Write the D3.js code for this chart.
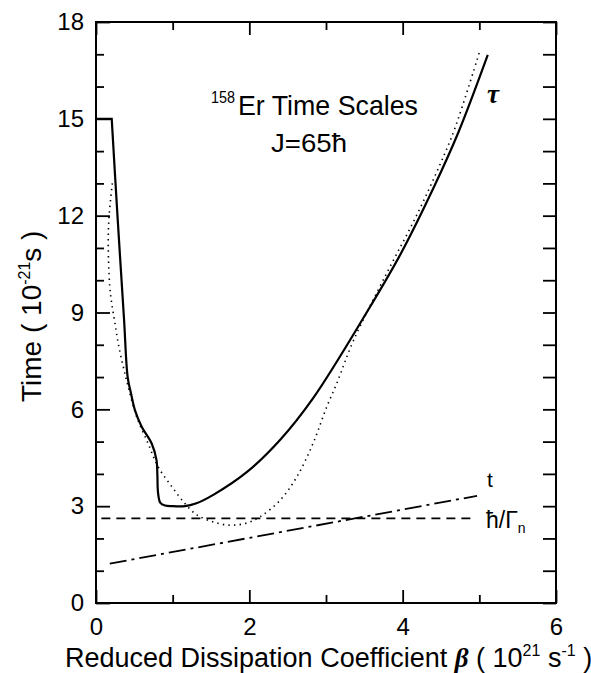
<!DOCTYPE html>
<html lang="en">
<head>
<meta charset="UTF-8">
<title>158Er Time Scales</title>
<script src="https://d3js.org/d3.v7.min.js"></script>
<style>
  body { margin: 0; background: #fff; }
  svg { display: block; font-family: "Liberation Sans Narrow", "Liberation Sans", Arial, sans-serif; }
  .tick text { fill: #000; }
</style>
</head>
<body>
<svg></svg>
<script>
// values (beta in 1e21 s^-1, time in 1e-21 s)
const tauBeta = [0, 0.205, 0.28, 0.365, 0.413, 0.457, 0.509, 0.596, 0.726, 0.79, 0.80, 0.81, 0.84, 0.9, 0.99, 1.16, 1.3, 1.53, 1.97, 2.40, 2.83, 3.53, 3.97, 4.40, 4.73, 5.11];
const tauTime = [15, 15, 12, 8.82, 7.0, 6.49, 5.97, 5.46, 4.94, 4.42, 4.0, 3.4, 3.1, 3.02, 3.0, 3.0, 3.08, 3.35, 4.06, 5.05, 6.34, 9.0, 10.8, 12.85, 14.6, 16.98];

const dotBeta = [0.213, 0.17, 0.16, 0.18, 0.205, 0.248, 0.29, 0.356, 0.42, 0.53, 0.68, 0.81, 0.99, 1.16, 1.29, 1.36, 1.53, 1.75, 1.97, 2.14, 2.40, 2.62, 2.83, 3.01, 3.14, 3.36, 3.79, 4.18, 4.49, 4.68, 5.01];
const dotTime = [13.0, 11.97, 11.04, 9.8, 9.28, 8.66, 8.04, 7.32, 6.7, 5.77, 4.94, 4.22, 3.6, 3.08, 2.77, 2.67, 2.51, 2.41, 2.48, 2.67, 3.18, 3.91, 4.94, 6.08, 6.8, 8.14, 10.21, 12.0, 13.6, 14.7, 17.13];

const gammaBeta = [0.07, 4.94];
const gammaTime = [2.62, 2.62];

const tBeta = [0.18, 4.97];
const tTime = [1.22, 3.32];

const xMajor = [0, 2, 4, 6];
const xMinor = [1, 3, 5];
const yMajor = [0, 3, 6, 9, 12, 15, 18];
const yMinor = [1, 2, 4, 5, 7, 8, 10, 11, 13, 14, 16, 17];

const W = 591, H = 673;
const m = { left: 96, right: 35, top: 22, bottom: 70 };
const svg = d3.select("svg").attr("width", W).attr("height", H);

const x = d3.scaleLinear().domain([0, 6]).range([m.left, W - m.right]);
const y = d3.scaleLinear().domain([0, 18]).range([H - m.bottom, m.top]);

const pts = (xs, ys) => xs.map((v, i) => [v, ys[i]]);

// axes: ticks point inward
function axis(gen, tr, vals, size, labels) {
  const g = svg.append("g").attr("transform", tr)
    .call(gen.tickValues(vals).tickSize(size).tickSizeOuter(0).tickPadding(labels ? 12 : 0)
      .tickFormat(labels ? d3.format("d") : ""));
  g.select(".domain").remove();
  g.selectAll(".tick line").attr("stroke", "#000").attr("stroke-width", 1.8);
  g.selectAll(".tick text").attr("font-size", 24);
  return g;
}
const bottomY = y(0), topY = y(18), leftX = x(0), rightX = x(6);
const gb = axis(d3.axisBottom(x), `translate(0,${bottomY})`, xMajor, -13, true);
gb.selectAll(".tick text").attr("dy", "1.0em").attr("y", 8);
axis(d3.axisBottom(x), `translate(0,${bottomY})`, xMinor, -8, false);
axis(d3.axisTop(x), `translate(0,${topY})`, xMajor, -13, false);
axis(d3.axisTop(x), `translate(0,${topY})`, xMinor, -8, false);
axis(d3.axisLeft(y), `translate(${leftX},0)`, yMajor, -14, true);
axis(d3.axisLeft(y), `translate(${leftX},0)`, yMinor, -8, false);
axis(d3.axisRight(y), `translate(${rightX},0)`, yMajor.concat(yMinor), -13, false);

svg.append("rect")
  .attr("x", leftX).attr("y", topY)
  .attr("width", rightX - leftX).attr("height", bottomY - topY)
  .attr("fill", "none").attr("stroke", "#000").attr("stroke-width", 2);

const line = d3.line().x(d => x(d[0])).y(d => y(d[1]));
const smooth = d3.line().x(d => x(d[0])).y(d => y(d[1])).curve(d3.curveCatmullRom.alpha(0.5));

// tau (solid): flat start then smooth curve
const tauPts = pts(tauBeta, tauTime);
svg.append("path").attr("d", line(tauPts.slice(0, 2)) + smooth(tauPts.slice(1)).replace(/^M/, "L"))
  .attr("fill", "none").attr("stroke", "#000").attr("stroke-width", 2.2);

svg.append("path").attr("d", smooth(pts(dotBeta, dotTime)))
  .attr("fill", "none").attr("stroke", "#000").attr("stroke-width", 1.6)
  .attr("stroke-dasharray", "1.4,4.2");

svg.append("path").attr("d", line(pts(gammaBeta, gammaTime)))
  .attr("fill", "none").attr("stroke", "#000").attr("stroke-width", 1.8)
  .attr("stroke-dasharray", "9,6");

svg.append("path").attr("d", line(pts(tBeta, tTime)))
  .attr("fill", "none").attr("stroke", "#000").attr("stroke-width", 1.8)
  .attr("stroke-dasharray", "17,5,3,5");

// titles inside the frame (condensed look)
svg.append("text").attr("x", 211).attr("y", 103).attr("font-size", 17)
  .attr("textLength", 24).attr("lengthAdjust", "spacingAndGlyphs").text("158");
svg.append("text").attr("x", 238).attr("y", 115).attr("font-size", 28)
  .attr("textLength", 180).attr("lengthAdjust", "spacingAndGlyphs").text("Er Time Scales");
svg.append("text").attr("x", 271).attr("y", 152).attr("font-size", 26)
  .attr("textLength", 76).attr("lengthAdjust", "spacingAndGlyphs").text("J=65ħ");

// curve labels
svg.append("text").attr("x", 487).attr("y", 103).attr("font-size", 27)
  .attr("font-weight", "bold").attr("font-style", "italic")
  .attr("font-family", "Liberation Serif, serif").text("τ");
svg.append("text").attr("x", 487).attr("y", 487).attr("font-size", 21).text("t");
const gl = svg.append("text").attr("x", 486).attr("y", 528).attr("font-size", 23);
gl.append("tspan").text("ħ/Γ");
gl.append("tspan").attr("font-size", 14).attr("dy", 5).text("n");

// axis titles
const xt = svg.append("text").attr("x", 65).attr("y", 667).attr("font-size", 27);
xt.append("tspan").text("Reduced Dissipation Coefficient ");
xt.append("tspan").attr("font-weight", "bold").attr("font-style", "italic")
  .attr("font-family", "Liberation Serif, serif").text("β");
xt.append("tspan").text(" ( 10");
xt.append("tspan").attr("font-size", 16).attr("dy", -11).text("21");
xt.append("tspan").attr("dy", 11).text(" s");
xt.append("tspan").attr("font-size", 16).attr("dy", -11).text("-1");
xt.append("tspan").attr("dy", 11).text(" )");

const yt = svg.append("text").attr("transform", "translate(41,402) rotate(-90)").attr("font-size", 28);
yt.append("tspan").text("Time ( 10");
yt.append("tspan").attr("font-size", 16).attr("dy", -11).text("-21");
yt.append("tspan").attr("dy", 11).text("s )");
</script>
</body>
</html>
